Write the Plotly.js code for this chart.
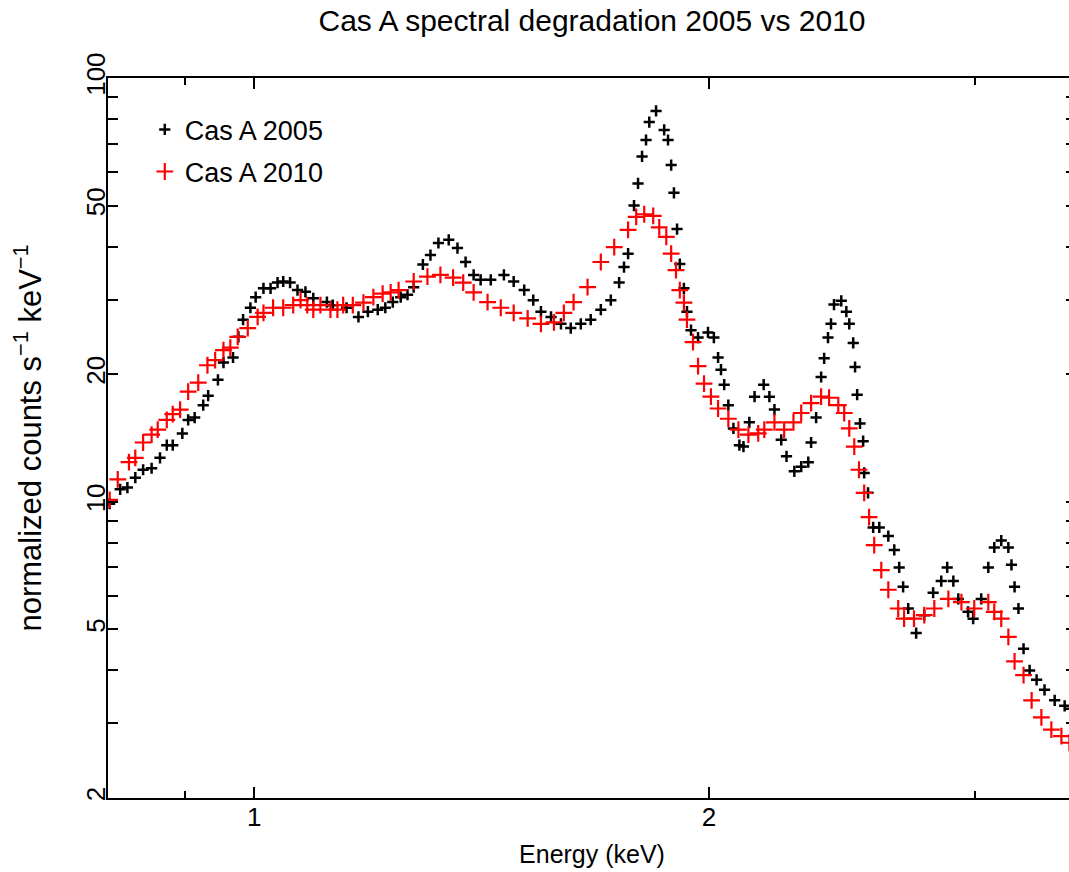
<!DOCTYPE html>
<html>
<head>
<meta charset="utf-8">
<script src="https://cdn.plot.ly/plotly-3.0.1.min.js"></script>
<style>
html, body { margin: 0; padding: 0; background: #fff; overflow: hidden; }
#chart { width: 1080px; height: 872px; }
</style>
</head>
<body>
<div id="chart"></div>
<script>
const chartTitle = "Cas A spectral degradation 2005 vs 2010";
const seriesNames = ["Cas A 2005", "Cas A 2010"];

const energy2005 = [0.802,0.815,0.824,0.834,0.844,0.855,0.866,0.875,0.883,0.896,0.904,0.913,0.925,0.932,0.946,0.954,0.968,0.976,0.983,0.994,1.002,1.014,1.025,1.036,1.045,1.056,1.068,1.081,1.094,1.117,1.127,1.151,1.172,1.189,1.207,1.221,1.235,1.250,1.263,1.275,1.293,1.308,1.324,1.345,1.363,1.380,1.397,1.412,1.434,1.463,1.485,1.509,1.530,1.548,1.572,1.596,1.620,1.645,1.670,1.696,1.722,1.744,1.757,1.768,1.784,1.795,1.806,1.817,1.826,1.845,1.868,1.879,1.888,1.896,1.905,1.913,1.925,1.934,1.946,1.967,1.997,2.015,2.028,2.037,2.047,2.060,2.076,2.095,2.108,2.127,2.144,2.174,2.193,2.210,2.233,2.251,2.278,2.302,2.327,2.337,2.355,2.373,2.384,2.398,2.409,2.420,2.447,2.466,2.477,2.492,2.499,2.507,2.518,2.530,2.534,2.549,2.569,2.593,2.629,2.653,2.673,2.689,2.710,2.743,2.777,2.815,2.850,2.876,2.903,2.925,2.969,2.992,3.029,3.062,3.090,3.123,3.157,3.172,3.187,3.206,3.231,3.261,3.296,3.336,3.388,3.440,3.470];
const counts2005 = [9.9,10.7,10.8,11.4,11.9,12.0,12.7,13.6,13.6,14.5,15.6,15.8,16.9,17.8,19.4,21.3,21.9,24.5,26.9,28.7,30.4,31.9,31.9,32.9,33.1,32.9,31.6,31.3,30.2,29.6,29.1,28.7,27.3,28.1,28.4,28.7,29.6,30.4,30.8,32.1,36.3,38.2,40.8,41.5,39.7,36.8,34.3,33.4,33.4,34.3,33.1,31.6,29.9,28.1,27.3,26.3,25.7,26.3,26.9,28.4,29.9,32.9,35.8,38.5,50.0,56.4,65.3,71.4,78.7,83.6,75.4,71.4,62.3,53.6,44.0,36.4,31.9,28.1,25.4,24.4,25.1,24.4,21.9,20.5,18.9,16.9,14.9,13.6,13.5,15.4,17.7,18.9,17.7,16.5,14.0,12.8,11.8,12.1,12.4,13.8,15.8,19.7,21.8,24.4,26.3,29.2,29.8,28.1,26.3,23.7,20.8,17.9,15.3,13.9,11.7,10.5,8.7,8.7,8.3,7.7,7.0,6.3,5.6,4.9,5.4,6.1,6.5,7.0,6.5,5.9,5.5,5.3,5.9,7.0,7.8,8.1,7.8,7.1,6.3,5.6,4.5,4.0,3.8,3.6,3.4,3.3,3.25];

const energy2010 = [0.802,0.812,0.826,0.834,0.844,0.855,0.863,0.875,0.883,0.893,0.904,0.918,0.931,0.942,0.954,0.964,0.975,0.990,1.005,1.014,1.029,1.045,1.061,1.073,1.084,1.094,1.106,1.123,1.135,1.145,1.162,1.181,1.199,1.216,1.231,1.246,1.275,1.302,1.328,1.354,1.375,1.397,1.427,1.456,1.485,1.517,1.548,1.579,1.603,1.627,1.662,1.696,1.731,1.768,1.790,1.812,1.837,1.854,1.874,1.888,1.902,1.913,1.925,1.934,1.952,1.967,1.985,2.006,2.028,2.060,2.092,2.124,2.156,2.176,2.210,2.243,2.275,2.302,2.337,2.373,2.402,2.436,2.458,2.477,2.496,2.514,2.534,2.553,2.573,2.601,2.629,2.669,2.693,2.734,2.777,2.820,2.881,2.939,2.997,3.062,3.090,3.123,3.157,3.187,3.231,3.271,3.320,3.371,3.423,3.465];
const counts2010 = [10.1,11.3,12.4,12.7,13.8,14.4,14.8,15.6,16.1,16.5,18.2,19.1,21.0,21.6,22.8,23.1,24.5,25.7,27.3,27.9,28.7,28.7,29.1,29.9,29.1,28.4,29.1,28.4,28.4,29.1,29.1,29.5,30.4,31.0,31.2,31.6,33.1,34.0,34.3,33.8,32.9,31.2,29.6,28.7,27.9,27.1,26.3,26.5,27.9,29.6,32.1,36.8,39.9,43.8,47.0,47.7,47.3,44.4,42.2,38.5,35.2,31.6,29.5,26.9,23.8,20.9,19.0,17.7,16.6,15.7,14.8,14.4,14.5,14.8,15.4,14.8,15.4,16.2,17.1,17.7,17.6,16.9,16.2,14.9,13.5,11.9,10.5,9.2,7.9,6.9,6.2,5.6,5.3,5.3,5.4,5.6,5.9,5.8,5.6,5.8,5.5,5.3,4.8,4.2,3.9,3.4,3.1,2.9,2.8,2.7];

const xTickVals = [1, 2];
const xTickText = ["1", "2"];
const xMinorVals = [0.9, 3];
const yTickVals = [2, 5, 10, 20, 50, 100];
const yTickText = ["2", "5", "10", "20", "50", "100"];
const yMinorVals = [3, 4, 6, 7, 8, 9, 30, 40, 60, 70, 80, 90];
const xRange = [0.8, 3.5];
const yRange = [2, 100];

const FONT = "Liberation Sans, Arial, Helvetica, sans-serif";

const traces = [
  {
    x: energy2005, y: counts2005, name: seriesNames[0], type: "scatter", mode: "markers",
    legendgroup: "a",
    marker: { symbol: "cross-thin", size: 8, color: "#000000", line: { color: "#000000", width: 2.5 } }
  },
  {
    x: energy2010, y: counts2010, name: seriesNames[1], type: "scatter", mode: "markers",
    legendgroup: "b",
    marker: { symbol: "cross-thin", size: 12, color: "#ff0000", line: { color: "#ff0000", width: 2.2 } }
  }
];

const axisCommon = {
  type: "log",
  showgrid: false,
  zeroline: false,
  showline: true,
  linecolor: "#000",
  linewidth: 2,
  mirror: "ticks",
  ticks: "inside",
  tickcolor: "#000",
  tickwidth: 2,
  tickfont: { family: FONT, size: 26, color: "#000" }
};

const layout = {
  width: 1080, height: 872,
  margin: { l: 108, r: 4, t: 78, b: 74, pad: 0 },
  paper_bgcolor: "#fff", plot_bgcolor: "#fff",
  title: { text: chartTitle, x: 0.5, xref: "paper", y: 0.976, yref: "container", yanchor: "middle",
           font: { family: FONT, size: 30, color: "#000" } },
  showlegend: true,
  legend: { x: 0.038, y: 0.962, xanchor: "left", yanchor: "top", bgcolor: "rgba(0,0,0,0)",
            font: { family: FONT, size: 27, color: "#000" }, traceorder: "grouped",
            tracegroupgap: 4, itemwidth: 30 },
  xaxis: Object.assign({}, axisCommon, {
    range: xRange.map(Math.log10),
    tickmode: "array", tickvals: xTickVals, ticktext: xTickText, ticklen: 11,
    ticklabelstandoff: -5,
    minor: { tickmode: "array", tickvals: xMinorVals, ticklen: 7, ticks: "inside", tickcolor: "#000", tickwidth: 2 },
    title: { text: "Energy (keV)", font: { family: FONT, size: 25, color: "#000" }, standoff: 14 }
  }),
  yaxis: Object.assign({}, axisCommon, {
    range: yRange.map(Math.log10),
    tickmode: "array", tickvals: yTickVals, ticktext: yTickText, ticklen: 10, tickangle: -90,
    ticklabelstandoff: -9,
    minor: { tickmode: "array", tickvals: yMinorVals, ticklen: 10, ticks: "inside", tickcolor: "#000", tickwidth: 2 },
    title: { text: "normalized counts s<sup>\u22121</sup> keV<sup>\u22121</sup>", font: { family: FONT, size: 31, color: "#000" }, standoff: 30 }
  })
};

Plotly.newPlot("chart", traces, layout, { displayModeBar: false, staticPlot: true });
</script>
</body>
</html>
